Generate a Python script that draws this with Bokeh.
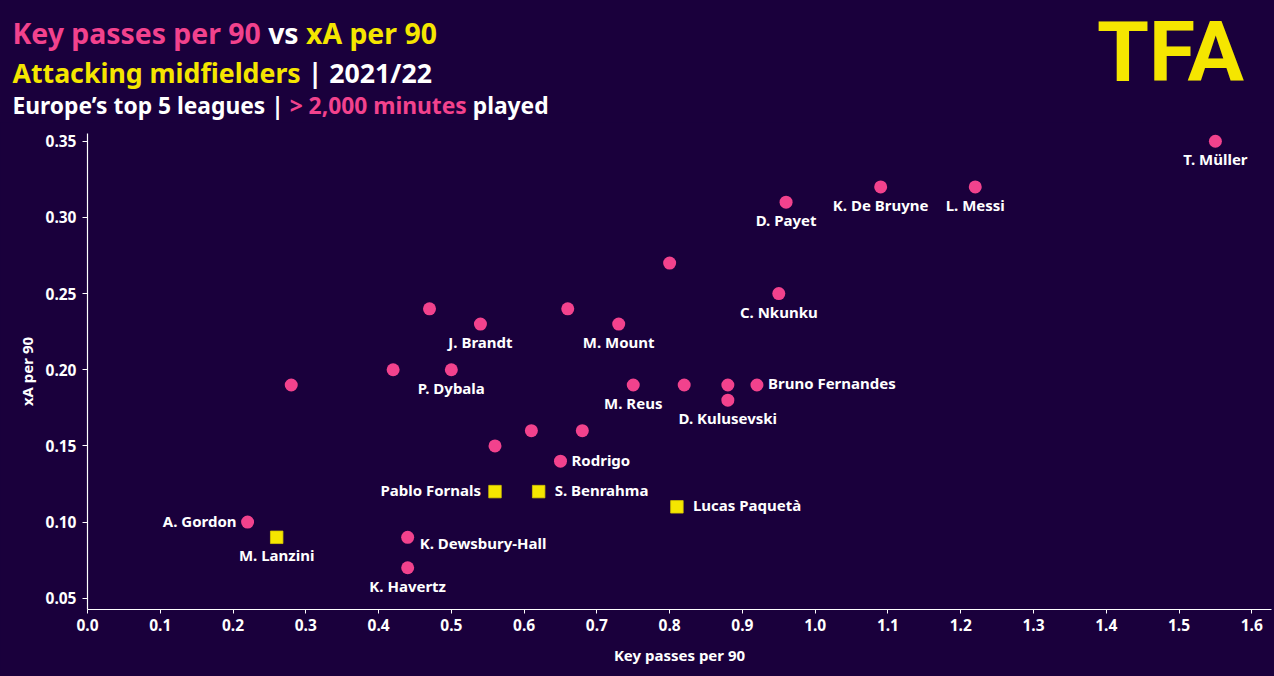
import glob
import os
import subprocess

from bokeh.plotting import figure
from bokeh.layouts import column
from bokeh.models import Range1d, FixedTicker, ColumnDataSource, GlobalInlineStyleSheet
from bokeh.embed import file_html
from bokeh.resources import INLINE
from bokeh.core.properties import value

# ---------------- data ----------------
circle_names = ["T. Müller", "L. Messi", "K. De Bruyne", "D. Payet", "",
                "C. Nkunku", "", "", "J. Brandt", "M. Mount", "", "P. Dybala",
                "", "M. Reus", "", "", "Bruno Fernandes", "D. Kulusevski",
                "", "", "", "Rodrigo", "A. Gordon", "K. Dewsbury-Hall",
                "K. Havertz"]
circle_kp = [1.55, 1.22, 1.09, 0.96, 0.80, 0.95, 0.47, 0.66, 0.54, 0.73,
             0.42, 0.50, 0.28, 0.75, 0.82, 0.88, 0.92, 0.88, 0.61, 0.68,
             0.56, 0.65, 0.22, 0.44, 0.44]
circle_xa = [0.35, 0.32, 0.32, 0.31, 0.27, 0.25, 0.24, 0.24, 0.23, 0.23,
             0.20, 0.20, 0.19, 0.19, 0.19, 0.19, 0.19, 0.18, 0.16, 0.16,
             0.15, 0.14, 0.10, 0.09, 0.07]

square_names = ["Pablo Fornals", "S. Benrahma", "Lucas Paquetà", "M. Lanzini"]
square_kp = [0.56, 0.62, 0.81, 0.26]
square_xa = [0.12, 0.12, 0.11, 0.09]

x_ticks = [0.0, 0.1, 0.2, 0.3, 0.4, 0.5, 0.6, 0.7, 0.8, 0.9, 1.0, 1.1, 1.2,
           1.3, 1.4, 1.5, 1.6]
y_ticks = [0.05, 0.10, 0.15, 0.20, 0.25, 0.30, 0.35]

title_line1 = [("Key passes per 90 ", "pink"), ("vs ", "white"), ("xA per 90", "yellow")]
title_line2 = [("Attacking midfielders ", "yellow"), ("| 2021/22", "white")]
title_line3 = [("Europe\u2019s top 5 leagues | ", "white"),
               ("> 2,000 minutes ", "pink"), ("played", "white")]
x_title = "Key passes per 90"
y_title = "xA per 90"
logo_text = "TFA"

# ---------------- style ----------------
BG = "#1a003c"
PINK = "#f2428d"
YELLOW = "#f5e600"
WHITE = "#ffffff"
COLORS = {"pink": PINK, "yellow": YELLOW, "white": WHITE}
FONT = "Noto Sans"
LOGO_FONT = "Roboto"

W = 1274
TOP_H = 122           # header strip (titles + logo)
MAIN_H = 676 - TOP_H  # chart
BORDER_L, BORDER_R, BORDER_T, BORDER_B = 87, 3, 11, 67
X_START, X_END = 0.0, 1.6271
Y_START, Y_END = 0.0426, 0.3551
BASELINE_SHIFT = 0.385   # empirical: Bokeh draws 'alphabetic' text this many em lower


def find_font():
    for pat in ["/usr/share/fonts/**/NotoSans-Bold.ttf",
                "/usr/share/fonts/**/NotoSans-Bold.otf",
                "/usr/local/share/fonts/**/NotoSans-Bold.ttf"]:
        res = glob.glob(pat, recursive=True)
        if res:
            return sorted(res)[0]
    try:
        out = subprocess.run(["fc-match", "-f", "%{file}", "Noto Sans:bold"],
                             capture_output=True, text=True).stdout.strip()
        if out and os.path.exists(out):
            return out
    except Exception:
        pass
    return None


FONT_PATH = find_font()


def text_w(s, size):
    if FONT_PATH:
        try:
            from PIL import ImageFont
            f = ImageFont.truetype(FONT_PATH, size)
            try:
                f.set_variation_by_name("Bold")
            except Exception:
                pass
            return f.getlength(s)
        except Exception:
            pass
    return 0.56 * size * len(s)


# ---------------- header ----------------
head = figure(width=W, height=TOP_H, output_backend="svg", toolbar_location=None,
              title=None, x_range=Range1d(0, W), y_range=Range1d(TOP_H, 0),
              x_axis_location=None, y_axis_location=None,
              min_border_left=0, min_border_right=0, min_border_top=0,
              min_border_bottom=0)
head.frame_align = False
head.background_fill_color = BG
head.border_fill_color = BG
head.outline_line_color = None
head.grid.grid_line_color = None
head.stylesheets = [GlobalInlineStyleSheet(css=f"html, body {{ background: {BG}; }}")]

# (segments, target line width px, baseline px)
for segs, target_w, base_y in ((title_line1, 425, 43.3), (title_line2, 419, 82.7),
                               (title_line3, 536, 113.3)):
    full = "".join(t for t, _ in segs)
    size = round(29 * target_w / text_w(full, 29), 1)
    xpos = 12.0
    for txt, col in segs:
        head.text(x=[xpos], y=[base_y - BASELINE_SHIFT * size], text=[txt],
                  text_color=COLORS[col], text_font=value(FONT),
                  text_font_style="bold", text_font_size=f"{size}px",
                  text_align="left", text_baseline="alphabetic")
        xpos += text_w(txt, size)

LOGO_SIZE = 84
head.text(x=[1170], y=[84 - BASELINE_SHIFT * LOGO_SIZE], text=[logo_text],
          text_color=YELLOW, text_font=value(LOGO_FONT), text_font_style="bold",
          text_font_size=f"{LOGO_SIZE}px", text_align="center",
          text_baseline="alphabetic")

# ---------------- chart ----------------
plot = figure(width=W, height=MAIN_H, output_backend="svg", toolbar_location=None,
              title=None,
              x_range=Range1d(X_START, X_END), y_range=Range1d(Y_START, Y_END),
              min_border_left=BORDER_L, min_border_right=BORDER_R,
              min_border_top=BORDER_T, min_border_bottom=BORDER_B)
plot.frame_align = False
plot.background_fill_color = BG
plot.border_fill_color = BG
plot.outline_line_color = None
plot.grid.grid_line_color = None

plot.xaxis.ticker = FixedTicker(ticks=x_ticks)
plot.yaxis.ticker = FixedTicker(ticks=y_ticks)
plot.xaxis.major_label_overrides = {t: f"{t:.1f}" for t in x_ticks}
plot.yaxis.major_label_overrides = {t: f"{t:.2f}" for t in y_ticks}
plot.xaxis.axis_label = x_title
plot.yaxis.axis_label = y_title
for ax in (plot.xaxis, plot.yaxis):
    ax.axis_line_color = WHITE
    ax.axis_line_width = 1.2
    ax.major_tick_line_color = WHITE
    ax.minor_tick_line_color = None
    ax.major_tick_in = 0
    ax.major_label_text_color = WHITE
    ax.major_label_text_font = FONT
    ax.major_label_text_font_style = "bold"
    ax.major_label_text_font_size = "15.5px"
    ax.axis_label_text_color = WHITE
    ax.axis_label_text_font = FONT
    ax.axis_label_text_font_style = "bold"
    ax.axis_label_text_font_size = "15px"
plot.xaxis.major_tick_out = 4
plot.xaxis.major_label_standoff = 5
plot.xaxis.axis_label_standoff = 11
plot.yaxis.major_tick_out = 5
plot.yaxis.major_label_standoff = 6
plot.yaxis.axis_label_standoff = 6

# points
plot.scatter(circle_kp, circle_xa, marker="circle", size=13, fill_color=PINK,
             line_color=None)
plot.scatter(square_kp, square_xa, marker="square", size=12.5, fill_color=YELLOW,
             line_color="#d8c800", line_width=0.8)

# point labels
LABEL_SIDE = {"Bruno Fernandes": "right", "Rodrigo": "right", "A. Gordon": "left",
              "K. Dewsbury-Hall": "right_low", "Pablo Fornals": "left",
              "S. Benrahma": "right", "Lucas Paquetà": "right"}
SIDES = {"below": ("center", 0, 0, 18), "right": ("left", 11, 16, -1.5),
         "left": ("right", -11, -14, -1.5), "right_low": ("left", 12, 12, 5.5)}

for names, kp, xa, is_sq in ((circle_names, circle_kp, circle_xa, False),
                             (square_names, square_kp, square_xa, True)):
    for side, (align, xo_c, xo_s, yo) in SIDES.items():
        rows = [(n, a, b) for n, a, b in zip(names, kp, xa)
                if n and LABEL_SIDE.get(n, "below") == side]
        if not rows:
            continue
        src = ColumnDataSource(dict(name=[r[0] for r in rows],
                                    x=[r[1] for r in rows],
                                    y=[r[2] for r in rows]))
        plot.text(x="x", y="y", text="name", source=src, text_align=align,
                  text_baseline="middle", x_offset=xo_s if is_sq else xo_c,
                  y_offset=yo, text_font=value(FONT), text_font_style="bold",
                  text_font_size="15px", text_color=WHITE)

p = column(head, plot, spacing=0)
open("out.html", "w").write(file_html(p, INLINE))
